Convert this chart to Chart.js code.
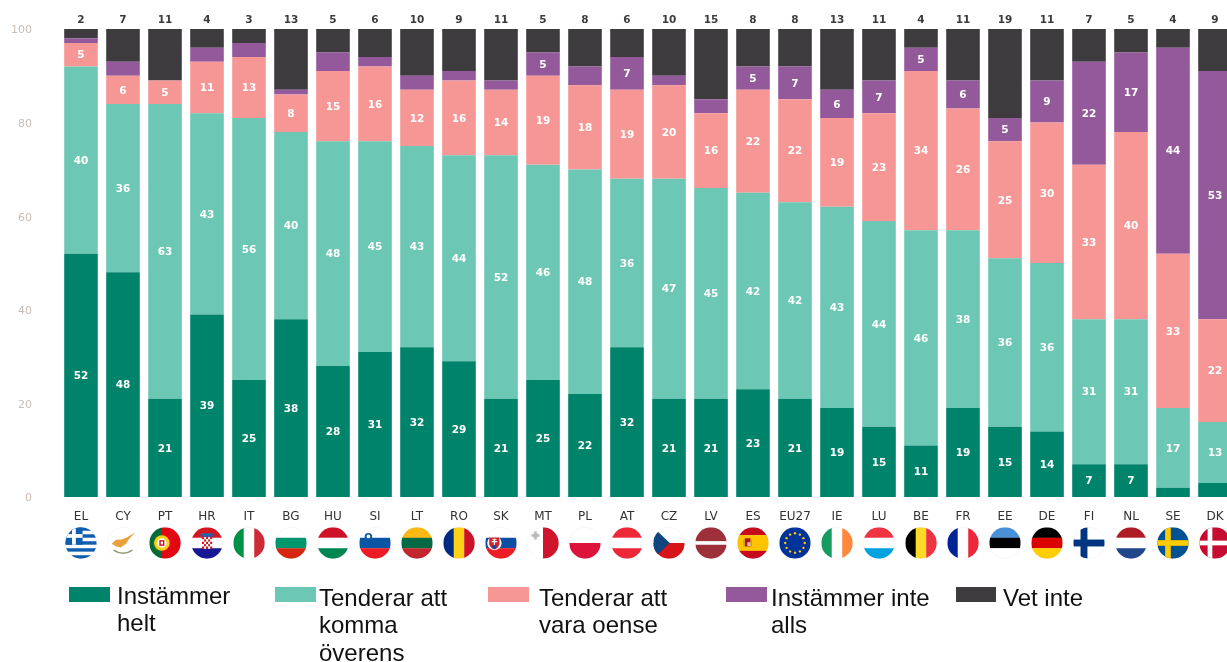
<!DOCTYPE html>
<html lang="sv">
<head>
<meta charset="utf-8">
<title>Stacked bars</title>
<script src="https://cdn.jsdelivr.net/npm/chart.js@4"></script>
<style>
html,body{margin:0;padding:0;width:1227px;height:662px;overflow:hidden;background:#fff}
#wrap{position:relative;width:1227px;height:662px;overflow:hidden}
canvas{position:absolute;left:0;top:0}
.lg{position:absolute;font:24px/27.4px "Liberation Sans",Arial,sans-serif;color:#111}
.sw{position:absolute;height:15px}
</style>
</head>
<body>
<div id="wrap"><canvas id="c" width="1236" height="662"></canvas></div>
<script>
const categories = ["EL","CY","PT","HR","IT","BG","HU","SI","LT","RO","SK","MT","PL","AT","CZ","LV","ES","EU27","IE","LU","BE","FR","EE","DE","FI","NL","SE","DK"];
const instammerHelt   = [52,48,21,39,25,38,28,31,32,29,21,25,22,32,21,21,23,21,19,15,11,19,15,14,7,7,2,3];
const tenderarKomma   = [40,36,63,43,56,40,48,45,43,44,52,46,48,36,47,45,42,42,43,44,46,38,36,36,31,31,17,13];
const tenderarOense   = [5,6,5,11,13,8,15,16,12,16,14,19,18,19,20,16,22,22,19,23,34,26,25,30,33,40,33,22];
const instammerInte   = [1,3,0,3,3,1,4,2,3,2,2,5,4,7,2,3,5,7,6,7,5,6,5,9,22,17,44,53];
const vetInte         = [2,7,11,4,3,13,5,6,10,9,11,5,8,6,10,15,8,8,13,11,4,11,19,11,7,5,4,9];
const seriesNames  = ["Instämmer helt","Tenderar att komma överens","Tenderar att vara oense","Instämmer inte alls","Vet inte"];
const seriesColors = ["#00836B","#6DC7B5","#F69795","#93599B","#3E3B3F"];
const yTicks = [0,20,40,60,80,100];

/* legend layout (page furniture, not data) */
const legendSwatchX = [69,275,488,726,956];
const legendSwatchW = [41,41,41,41,40];
const legendTextX   = [117,319,539,771,1003];
const legendTextTop = [582,584,584,584,584];
const legendTextW   = [150,150,170,170,170];

const wrap = document.getElementById('wrap');
seriesNames.forEach((n,i)=>{
  const s=document.createElement('div');s.className='sw';
  s.style.cssText=`left:${legendSwatchX[i]}px;top:587px;width:${legendSwatchW[i]}px;background:${seriesColors[i]}`;
  wrap.appendChild(s);
  const t=document.createElement('div');t.className='lg';t.textContent=n;
  t.style.cssText=`left:${legendTextX[i]}px;top:${legendTextTop[i]}px;width:${legendTextW[i]}px`;
  wrap.appendChild(t);
});

/* flag icons */
function R(x,c,a,b,w,h){x.fillStyle=c;x.fillRect(a,b,w,h);}
function H(x,cols,w){let t=w?w.reduce((p,q)=>p+q,0):cols.length,y=-1;cols.forEach((c,i)=>{const d=2*(w?w[i]:1)/t;R(x,c,-1,y,2,d+.01);y+=d;});}
function V(x,cols,w){let t=w?w.reduce((p,q)=>p+q,0):cols.length,y=-1;cols.forEach((c,i)=>{const d=2*(w?w[i]:1)/t;R(x,c,y,-1,d+.01,2);y+=d;});}
function dot(x,c,a,b,r){x.fillStyle=c;x.beginPath();x.arc(a,b,r,0,Math.PI*2);x.fill();}
function cross(x,bg,fg,cx,t){R(x,bg,-1,-1,2,2);R(x,fg,-1,-t/2,2,t);R(x,fg,cx-t/2,-1,t,2);}
const W="#fff";
const flags={
 EL(x){H(x,["#0D5EAF",W,"#0D5EAF",W,"#0D5EAF",W,"#0D5EAF",W,"#0D5EAF"]);R(x,"#0D5EAF",-1,-1,1.1,1.11);R(x,W,-.57,-1,.24,1.11);R(x,W,-1,-.57,1.1,.24);},
 CY(x){R(x,W,-1,-1,2,2);x.fillStyle="#E9A23B";x.beginPath();x.moveTo(-.72,.05);x.lineTo(-.45,-.2);x.lineTo(-.1,-.22);x.lineTo(.25,-.35);x.lineTo(.78,-.68);x.lineTo(.35,-.2);x.lineTo(.2,.05);x.lineTo(-.15,.28);x.lineTo(-.45,.2);x.closePath();x.fill();x.strokeStyle="#8c9a6a";x.lineWidth=.1;x.beginPath();x.moveTo(-.6,.45);x.quadraticCurveTo(0,.85,.6,.45);x.stroke();},
 PT(x){V(x,["#046A38","#E30613"],[2,3]);dot(x,"#F7D116",-.2,0,.5);dot(x,W,-.2,0,.3);R(x,"#C8102E",-.36,-.18,.32,.36);R(x,W,-.27,-.09,.14,.18);},
 HR(x){H(x,["#D5161F",W,"#171796"]);R(x,"#2a5fa8",-.4,-.62,.8,.22);for(let i=0;i<5;i++)for(let j=0;j<5;j++)R(x,(i+j)%2?W:"#D5161F",-.32+i*.13,-.38+j*.15,.13,.15);},
 IT(x){V(x,["#009246",W,"#CE2B37"]);},
 BG(x){H(x,[W,"#00966E","#D62612"]);},
 HU(x){H(x,["#CE1126",W,"#008751"]);},
 SI(x){H(x,[W,"#0B56A4","#ED1C24"]);dot(x,"#0B56A4",-.42,-.4,.24);dot(x,W,-.42,-.42,.12);},
 LT(x){H(x,["#FDB913","#006A44","#C1272D"]);},
 RO(x){V(x,["#002B7F","#FCD116","#CE1126"]);},
 SK(x){H(x,[W,"#0B4EA2","#EE1C25"]);dot(x,W,-.42,0,.46);x.fillStyle="#D8202A";x.beginPath();x.moveTo(-.75,-.35);x.lineTo(-.1,-.35);x.lineTo(-.1,.1);x.quadraticCurveTo(-.2,.35,-.42,.42);x.quadraticCurveTo(-.65,.35,-.75,.1);x.closePath();x.fill();R(x,W,-.46,-.28,.08,.5);R(x,W,-.6,-.12,.36,.07);R(x,W,-.55,-.24,.26,.06);dot(x,"#0B4EA2",-.42,.25,.14);},
 MT(x){V(x,[W,"#CF142B"]);R(x,"#bbb",-.62,-.62,.28,.28);R(x,"#bbb",-.56,-.74,.16,.52);R(x,"#bbb",-.74,-.56,.52,.16);},
 PL(x){H(x,[W,"#DC143C"]);},
 AT(x){H(x,["#ED2939",W,"#ED2939"]);},
 CZ(x){H(x,[W,"#D7141A"]);x.fillStyle="#11457E";x.beginPath();x.moveTo(-1,-1);x.lineTo(.05,0);x.lineTo(-1,1);x.closePath();x.fill();},
 LV(x){H(x,["#9E3039",W,"#9E3039"],[2,.5,2]);},
 ES(x){H(x,["#C60B1E","#FFC400","#C60B1E"],[1,2,1]);R(x,"#AD1519",-.52,-.3,.36,.52);R(x,"#c8a030",-.62,-.24,.1,.46);R(x,"#c8a030",-.16,-.24,.1,.46);R(x,"#e8c0a0",-.36,-.05,.2,.25);},
 EU27(x){R(x,"#003399",-1,-1,2,2);for(let i=0;i<12;i++){const a=i*Math.PI/6;dot(x,"#FFCC00",.62*Math.cos(a),.62*Math.sin(a),.075);}},
 IE(x){V(x,["#169B62",W,"#FF883E"]);},
 LU(x){H(x,["#EF3340",W,"#00A3E0"]);},
 BE(x){V(x,["#000","#FDDA24","#EF3340"]);},
 FR(x){V(x,["#002395",W,"#ED2939"]);},
 EE(x){H(x,["#4891D9","#000",W]);},
 DE(x){H(x,["#000","#DD0000","#FFCE00"]);},
 FI(x){cross(x,W,"#003580",-.32,.44);},
 NL(x){H(x,["#AE1C28",W,"#21468B"]);},
 SE(x){cross(x,"#005293","#FECB00",-.32,.36);},
 DK(x){cross(x,"#C60C30",W,-.32,.3);}
};

const flagPlugin={id:'flags',afterDraw(chart){
  const x=chart.ctx,sc=chart.scales.x,cy=chart.chartArea.bottom+46,r=15.7;
  categories.forEach((c,i)=>{
    const cx=sc.getPixelForTick(i);
    x.save();x.translate(cx,cy);x.scale(r,r);
    x.beginPath();x.arc(0,0,1,0,Math.PI*2);x.clip();
    flags[c](x);
    x.restore();
    x.save();x.strokeStyle="rgba(0,0,0,.06)";x.lineWidth=.6;x.beginPath();x.arc(cx,cy,r,0,Math.PI*2);x.stroke();x.restore();
  });
}};

const labelPlugin={id:'vals',afterDatasetsDraw(chart){
  const x=chart.ctx;
  x.save();x.textAlign='center';x.textBaseline='middle';
  x.font='bold 10.5px "DejaVu Sans"';
  chart.data.datasets.forEach((ds,d)=>{
    const meta=chart.getDatasetMeta(d);
    meta.data.forEach((b,i)=>{
      const v=ds.data[i];
      if(d<4&&v>=5){x.fillStyle='#fff';x.fillText(v,b.x,(b.y+b.base)/2+1);}
      if(d===4){x.fillStyle='#3E3B3F';x.fillText(v,b.x,chart.chartArea.top-9);}
    });
  });
  x.restore();
}};

new Chart(document.getElementById('c'),{
  type:'bar',
  data:{labels:categories,datasets:[instammerHelt,tenderarKomma,tenderarOense,instammerInte,vetInte].map((d,i)=>({
    label:seriesNames[i],data:d,backgroundColor:seriesColors[i],borderWidth:0,barPercentage:.8,categoryPercentage:1
  }))},
  options:{
    responsive:false,animation:false,
    layout:{padding:{top:29,left:0,right:0,bottom:0}},
    plugins:{legend:{display:false},tooltip:{enabled:false}},
    scales:{
      x:{stacked:true,grid:{display:false},border:{display:false},
        afterFit(s){s.height=165;},
        ticks:{autoSkip:false,maxRotation:0,minRotation:0,padding:5,color:'#333',font:{family:'"DejaVu Sans"',size:12}}},
      y:{stacked:true,min:0,max:100,grid:{display:false},border:{display:false},
        afterFit(s){s.width=60;},
        afterBuildTicks(s){s.ticks=yTicks.map(v=>({value:v}));},
        ticks:{color:'#C9BDB6',padding:20,labelOffset:1.5,font:{family:'"DejaVu Sans"',size:11}}}
    }
  },
  plugins:[labelPlugin,flagPlugin]
});
</script>
</body>
</html>
